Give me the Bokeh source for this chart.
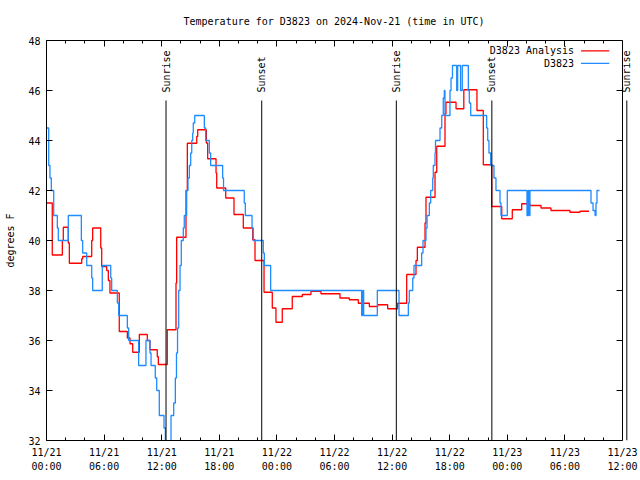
import math
from bokeh.plotting import figure
from bokeh.models import FixedTicker, LinearAxis, Range1d, Arrow, Label, Span
from bokeh.embed import file_html
from bokeh.resources import INLINE

FONT = "DejaVu Sans Mono"

title_text = "Temperature for D3823 on 2024-Nov-21 (time in UTC)"
y_label = "degrees F"

x_start, x_end = 0, 60          # hours since 11/21 00:00 UTC (axis span)
x_view_end = 61.25              # a little room right of the border for the last Sunrise mark
y_start, y_end = 32, 48

x_tick_hours = [0, 6, 12, 18, 24, 30, 36, 42, 48, 54, 60]
x_tick_labels = ["11/21\n00:00", "11/21\n06:00", "11/21\n12:00", "11/21\n18:00",
                 "11/22\n00:00", "11/22\n06:00", "11/22\n12:00", "11/22\n18:00",
                 "11/23\n00:00", "11/23\n06:00", "11/23\n12:00"]
x_minor_hours = [2, 4, 8, 10, 14, 16, 20, 22, 26, 28, 32, 34, 38, 40, 44, 46, 50, 52, 56, 58]
y_ticks = [32, 34, 36, 38, 40, 42, 44, 46, 48]

series_names = ["D3823 Analysis", "D3823"]
series_colors = ["#ff0000", "#1e8cff"]

# D3823 Analysis (red), step values: hour -> temperature
analysis_hours = [0.00, 0.60, 1.65, 1.75, 2.27, 2.38, 3.67, 3.77, 4.71, 4.81,
                  5.65, 5.75, 6.27, 6.44, 6.61, 7.58, 8.42, 8.70, 8.98, 9.67,
                  10.50, 10.78, 11.54, 11.65, 12.58, 13.49, 13.56, 14.53, 14.67, 15.65,
                  15.75, 16.65, 16.79, 17.66, 17.73, 18.67, 19.53, 20.50, 21.48, 21.72,
                  22.66, 23.52, 23.90, 24.56, 25.60, 26.65, 27.55, 28.59, 30.57, 31.54,
                  32.48, 33.63, 34.50, 35.54, 36.58, 37.52, 38.49, 38.63, 39.43, 39.53,
                  40.47, 40.65, 41.51, 41.61, 42.66, 43.47, 44.84, 45.50, 46.38, 47.42,
                  48.52, 49.50, 50.36, 51.51, 52.55, 54.53, 55.57, 56.51]
analysis_temps = [41.50, 39.42, 40.00, 40.53, 39.90, 39.09, 39.27, 39.36, 40.00, 40.50,
                  39.70, 38.96, 38.80, 38.40, 37.90, 36.36, 36.10, 35.87, 35.53, 36.24,
                  36.00, 35.63, 35.35, 35.04, 36.43, 38.30, 40.13, 42.00, 43.89, 44.16,
                  44.43, 43.90, 43.27, 42.70, 42.10, 41.70, 41.04, 40.50, 40.03, 39.20,
                  37.93, 37.30, 36.73, 37.27, 37.76, 37.84, 37.97, 37.87, 37.70, 37.63,
                  37.49, 37.36, 37.43, 37.27, 37.49, 38.64, 39.20, 39.73, 40.70, 41.73,
                  42.73, 43.77, 45.07, 45.53, 45.27, 46.03, 45.20, 43.03, 41.36, 40.87,
                  41.23, 41.47, 41.40, 41.30, 41.20, 41.13, 41.17, 41.17]

# D3823 observations (blue), step values: hour -> temperature
obs_hours = [0.00, 0.23, 0.36, 0.50, 0.75, 1.13, 1.23, 2.27, 3.63, 3.77,
             4.19, 4.71, 4.81, 5.81, 6.69, 6.79, 7.38, 7.52, 8.42, 8.56,
             9.60, 10.36, 10.78, 10.89, 11.33, 11.48, 11.75, 12.24, 12.38, 12.97,
             13.25, 13.42, 13.54, 13.65, 13.77, 13.91, 14.04, 14.25, 14.35, 14.60,
             14.74, 14.88, 15.02, 15.13, 15.23, 15.29, 15.44, 16.44, 16.58, 16.96,
             17.10, 18.35, 18.44, 20.60, 20.71, 21.41, 21.54, 22.58, 22.69, 23.35,
             32.83, 32.94, 33.04, 34.46, 36.72, 37.69, 37.79, 38.15, 38.28, 39.08,
             39.22, 39.53, 39.64, 39.88, 40.02, 40.23, 40.29, 40.47, 40.52, 40.99,
             41.17, 41.33, 41.44, 41.51, 42.03, 42.14, 42.29, 42.73, 42.83, 43.13,
             43.31, 43.94, 44.04, 44.19, 45.85, 45.96, 46.09, 46.27, 46.61, 46.82,
             47.24, 47.34, 48.00, 50.05, 50.16, 50.26, 50.36, 56.72, 56.93, 57.14,
             57.24, 57.34, 57.60]
obs_temps = [44.5, 43.0, 42.5, 42.0, 41.0, 40.5, 40.0, 41.0, 40.0, 39.5,
             39.0, 38.5, 38.0, 39.0, 38.5, 38.0, 37.5, 37.0, 36.5, 36.0,
             35.0, 36.0, 35.5, 35.0, 34.5, 34.0, 33.0, 32.5, 31.0, 33.0,
             33.5, 34.5, 35.5, 36.5, 38.0, 39.0, 40.0, 40.5, 41.0, 42.0,
             42.5, 43.0, 43.5, 44.0, 44.3, 44.7, 45.0, 44.5, 44.0, 43.5,
             43.0, 42.5, 42.0, 41.5, 41.0, 40.5, 40.0, 39.5, 39.0, 38.0,
             37.0, 38.0, 37.0, 38.0, 37.0, 37.5, 38.0, 38.5, 39.0, 39.5,
             40.0, 40.5, 41.0, 41.5, 42.0, 42.5, 43.0, 43.5, 44.0, 44.5,
             45.0, 45.7, 46.0, 45.0, 46.0, 46.5, 47.0, 46.0, 47.0, 46.0,
             47.0, 46.0, 45.5, 45.0, 44.5, 44.0, 43.5, 43.0, 42.5, 42.0,
             41.5, 41.0, 42.0, 41.0, 42.0, 41.0, 42.0, 41.5, 41.2, 41.0,
             41.5, 42.0, 42.0]

sun_names = ["Sunrise", "Sunset", "Sunrise", "Sunset", "Sunrise"]
sun_hours = [12.45, 22.42, 36.44, 46.39, 60.45]

PX_PER_HOUR = 9.6
FRAME_W = int(round(x_view_end * PX_PER_HOUR))   # 588
FRAME_H = 400


def gx(f):
    return x_start + f * (x_end - x_start)


def gy(f):
    return y_start + f * (y_end - y_start)


p = figure(frame_width=FRAME_W, frame_height=FRAME_H,
           x_range=Range1d(x_start, x_view_end), y_range=Range1d(y_start, y_end),
           output_backend="svg", toolbar_location=None,
           min_border_left=46, min_border_top=40, min_border_right=4, min_border_bottom=30)

p.title.text = title_text
p.title.align = "left"
p.title.offset = 137
p.title.text_font = FONT
p.title.text_font_size = "10px"
p.title.text_font_style = "normal"
p.title.text_color = "black"
p.title.standoff = 27

p.background_fill_color = "white"
p.border_fill_color = "white"
p.outline_line_color = None
p.xgrid.visible = False
p.ygrid.visible = False

xticker = FixedTicker(ticks=x_tick_hours, minor_ticks=x_minor_hours)
yticker = FixedTicker(ticks=y_ticks, minor_ticks=[])


def style_axis(ax):
    ax.axis_line_color = "black"
    ax.major_tick_line_color = "black"
    ax.minor_tick_line_color = "black"
    ax.major_tick_in = 6
    ax.major_tick_out = 0
    ax.minor_tick_in = 3
    ax.minor_tick_out = 0
    ax.major_label_text_font = FONT
    ax.major_label_text_font_size = "10px"
    ax.major_label_text_color = "black"
    ax.axis_label_text_font = FONT
    ax.axis_label_text_font_size = "10px"
    ax.axis_label_text_font_style = "normal"
    ax.axis_label_text_color = "black"


xa = p.xaxis[0]
xa.ticker = xticker
xa.bounds = (x_start, x_end)
xa.major_label_overrides = {h: lab for h, lab in zip(x_tick_hours, x_tick_labels)}
style_axis(xa)
xa.major_label_standoff = 6
xa.major_label_text_line_height = 1.35

ya = p.yaxis[0]
ya.ticker = yticker
ya.axis_label = y_label
style_axis(ya)
ya.major_label_standoff = 6
ya.axis_label_standoff = 9

top = LinearAxis(ticker=xticker, bounds=(x_start, x_end))
style_axis(top)
top.major_label_overrides = {h: "" for h in x_tick_hours}
top.major_label_standoff = 0
p.add_layout(top, "above")

# right border of the graph at the end of the time axis, with mirrored y ticks
p.add_layout(Span(location=x_end, dimension="height", line_color="black", line_width=1))
tick_len_h = 6 / PX_PER_HOUR
p.segment(x0=[x_end - tick_len_h] * len(y_ticks), y0=y_ticks,
          x1=[x_end] * len(y_ticks), y1=y_ticks, line_color="black", line_width=1)

# data
p.step(analysis_hours, analysis_temps, mode="after", line_color=series_colors[0], line_width=1.3)
p.step(obs_hours, obs_temps, mode="after", line_color=series_colors[1], line_width=1.3)

# sunrise / sunset markers
for name, h in zip(sun_names, sun_hours):
    p.add_layout(Arrow(end=None, x_start=h, y_start=y_start, x_end=h, y_end=gy(0.85),
                       line_color="black", line_width=1))
    p.add_layout(Label(x=h, y=gy(0.87), text=name, angle=math.pi / 2,
                       text_align="left", text_baseline="middle",
                       text_font=FONT, text_font_size="10px", text_color="black"))

# legend (text left, sample line right, like the reference)
legend_fy = [0.974, 0.943]
for name, col, fy in zip(series_names, series_colors, legend_fy):
    p.add_layout(Label(x=gx(0.916), y=gy(fy), text=name, text_align="right",
                       text_baseline="middle", text_font=FONT,
                       text_font_size="10px", text_color="black"))
    p.add_layout(Arrow(end=None, x_start=gx(0.928), y_start=gy(fy), x_end=gx(0.977), y_end=gy(fy),
                       line_color=col, line_width=1.3))

open("out.html", "w").write(file_html(p, INLINE))
